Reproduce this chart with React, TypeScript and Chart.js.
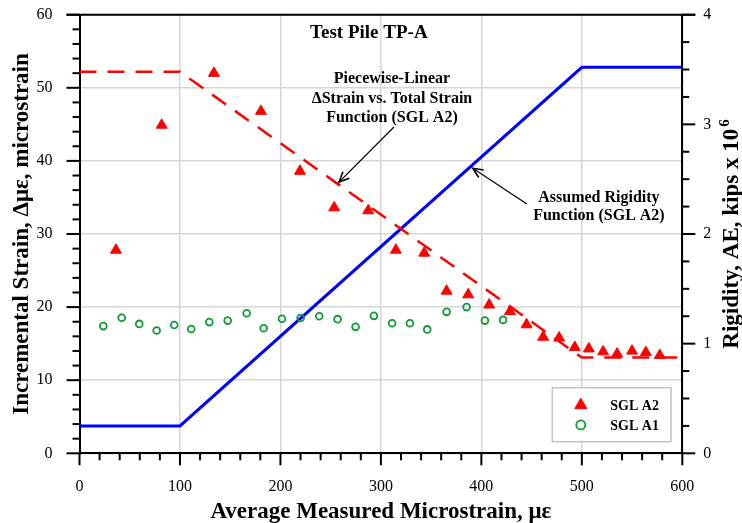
import React, { useEffect, useRef } from "react";
import { Chart, registerables } from "chart.js";

Chart.register(...registerables);

const FONT = '"Liberation Serif", "Times New Roman", serif';

// Axis ranges / tick steps
const xRange = [0, 600];
const xStep = 100;
const xMinorStep = 20;
const leftRange = [0, 60];
const leftStep = 10;
const leftMinorStep = 2;
const rightRange = [0, 4];
const rightStep = 1;
const rightMinorStep = 0.25;

// SGL A2 measured points (triangles)
const a2X = [36.3, 81.8, 133.8, 180.6, 219.4, 253.5, 287.4, 314.9, 343.1, 365.4, 386.9, 407.8, 428.4, 445, 461.5, 477.4, 493, 507, 521.2, 535.1, 550, 563.7, 577.6];
const a2Y = [27.8, 44.9, 52.0, 46.8, 38.6, 33.6, 33.2, 27.8, 27.4, 22.2, 21.7, 20.3, 19.4, 17.6, 15.9, 15.8, 14.5, 14.3, 13.9, 13.6, 14.0, 13.8, 13.4];

// SGL A1 measured points (open circles)
const a1X = [23.7, 42.0, 59.5, 76.8, 94.3, 111.2, 129.2, 147.5, 166.4, 183.3, 201.5, 220.1, 238.6, 256.9, 274.8, 293.0, 311.2, 328.9, 346.1, 365.4, 385.3, 403.5, 421.6];
const a1Y = [17.4, 18.55, 17.7, 16.8, 17.55, 17.0, 17.95, 18.15, 19.15, 17.1, 18.4, 18.5, 18.75, 18.35, 17.3, 18.8, 17.8, 17.8, 16.95, 19.35, 20.0, 18.15, 18.25];

// Piecewise-linear ΔStrain vs total strain function (left axis)
const strainFnX = [0, 100, 500, 600];
const strainFnY = [52.2, 52.2, 13.1, 13.1];

// Assumed rigidity function (right axis, kips x 10^6)
const rigidityX = [0, 100, 500, 600];
const rigidityY = [0.25, 0.25, 3.52, 3.52];

const titleText = "Test Pile TP-A";
const xTitle = "Average Measured Microstrain, \u03bc\u03b5";
const leftTitle = "Incremental Strain, \u0394\u03bc\u03b5, microstrain";
const rightTitle = "Rigidity, AE, kips x 10";
const rightTitleSup = "6";
const note1 = ["Piecewise-Linear", "\u0394Strain vs. Total Strain", "Function (SGL A2)"];
const note2 = ["Assumed Rigidity", "Function (SGL A2)"];
const legendLabels = ["SGL A2", "SGL A1"];

const toPts = (xs: number[], ys: number[]) => xs.map((x, i) => ({ x, y: ys[i] }));

const decor = {
  id: "decor",
  afterDraw(chart: any) {
    const ctx: CanvasRenderingContext2D = chart.ctx;
    const { left, right, top, bottom } = chart.chartArea;
    const xs = chart.scales.x;
    const ys = chart.scales.y;
    const y1 = chart.scales.y1;
    const line = (a: number, b: number, c: number, d: number) => {
      ctx.beginPath();
      ctx.moveTo(a, b);
      ctx.lineTo(c, d);
      ctx.stroke();
    };
    ctx.save();
    ctx.strokeStyle = "#000";
    ctx.lineWidth = 2;
    // top frame
    line(left - 13, top, right + 13, top);
    // x ticks
    for (let v = xRange[0]; v <= xRange[1] + 1e-6; v += xMinorStep) {
      const px = xs.getPixelForValue(v);
      const major = Math.abs(v % xStep) < 1e-6;
      line(px, bottom, px, bottom + (major ? 12 : 7));
    }
    // left ticks
    for (let v = leftRange[0]; v <= leftRange[1] + 1e-6; v += leftMinorStep) {
      const py = ys.getPixelForValue(v);
      const major = Math.abs(v % leftStep) < 1e-6;
      line(left, py, left - (major ? 13 : 7), py);
    }
    // right ticks
    for (let k = 0; k <= (rightRange[1] - rightRange[0]) / rightMinorStep + 1e-6; k++) {
      const v = rightRange[0] + k * rightMinorStep;
      const py = y1.getPixelForValue(v);
      const major = Math.abs(v % rightStep) < 1e-6;
      line(right, py, right + (major ? 13 : 7), py);
    }

    ctx.fillStyle = "#000";
    // x title
    ctx.font = `bold 23px ${FONT}`;
    ctx.textAlign = "center";
    ctx.textBaseline = "alphabetic";
    ctx.fillText(xTitle, (left + right) / 2, 518);
    // left title
    ctx.save();
    ctx.translate(28, (top + bottom) / 2);
    ctx.rotate(-Math.PI / 2);
    ctx.fillText(leftTitle, 0, 0);
    ctx.restore();
    // right title
    ctx.save();
    ctx.translate(738, (top + bottom) / 2);
    ctx.rotate(-Math.PI / 2);
    ctx.font = `bold 23px ${FONT}`;
    const w1 = ctx.measureText(rightTitle).width;
    ctx.font = `bold 15px ${FONT}`;
    const w2 = ctx.measureText(rightTitleSup).width;
    const start = -(w1 + w2 + 2) / 2;
    ctx.textAlign = "left";
    ctx.font = `bold 23px ${FONT}`;
    ctx.fillText(rightTitle, start, 0);
    ctx.font = `bold 15px ${FONT}`;
    ctx.fillText(rightTitleSup, start + w1 + 2, -9);
    ctx.restore();

    // chart title
    ctx.font = `bold 19px ${FONT}`;
    ctx.textAlign = "center";
    ctx.fillText(titleText, xs.getPixelForValue(288), ys.getPixelForValue(56.8));

    // annotation 1
    ctx.font = `bold 16px ${FONT}`;
    const n1x = xs.getPixelForValue(311);
    const n1y = ys.getPixelForValue(50.65);
    note1.forEach((t, i) => ctx.fillText(t, n1x, n1y + i * 19.5));
    // annotation 2
    const n2x = xs.getPixelForValue(517);
    const n2y = ys.getPixelForValue(34.4);
    note2.forEach((t, i) => ctx.fillText(t, n2x, n2y + i * 18.5));

    // arrows
    const arrow = (x0: number, y0: number, x1: number, y1p: number) => {
      ctx.lineWidth = 1.2;
      ctx.strokeStyle = "#000";
      line(x0, y0, x1, y1p);
      const ang = Math.atan2(y1p - y0, x1 - x0);
      const L = 11;
      const spread = 0.42;
      ctx.beginPath();
      ctx.moveTo(x1 - L * Math.cos(ang - spread), y1p - L * Math.sin(ang - spread));
      ctx.lineTo(x1, y1p);
      ctx.lineTo(x1 - L * Math.cos(ang + spread), y1p - L * Math.sin(ang + spread));
      ctx.lineWidth = 1.6;
      ctx.stroke();
    };
    arrow(xs.getPixelForValue(313), ys.getPixelForValue(44.64), xs.getPixelForValue(258.3), ys.getPixelForValue(37.1));
    arrow(xs.getPixelForValue(445.3), ys.getPixelForValue(34.1), xs.getPixelForValue(391.5), ys.getPixelForValue(39.0));

    // legend
    const bw = 118.7;
    const bh = 54;
    const bx = right - 11.3 - bw;
    const by = bottom - 11.6 - bh;
    ctx.fillStyle = "#fff";
    ctx.fillRect(bx, by, bw, bh);
    ctx.strokeStyle = "#c4c4c4";
    ctx.lineWidth = 1.5;
    ctx.strokeRect(bx, by, bw, bh);
    const ds = chart.data.datasets;
    [0, 1].forEach((i) => {
      const d = ds[i];
      const cy = by + 17.5 + i * 19.7;
      const cx = bx + 28.5;
      ctx.save();
      ctx.fillStyle = d.backgroundColor;
      ctx.strokeStyle = d.borderColor;
      ctx.lineWidth = d.borderWidth;
      ctx.beginPath();
      if (d.pointStyle === "triangle") {
        const r = 7;
        ctx.moveTo(cx, cy - r);
        ctx.lineTo(cx + r * Math.sin((2 * Math.PI) / 3), cy - r * Math.cos((2 * Math.PI) / 3));
        ctx.lineTo(cx + r * Math.sin((4 * Math.PI) / 3), cy - r * Math.cos((4 * Math.PI) / 3));
        ctx.closePath();
        ctx.fill();
        ctx.stroke();
      } else {
        ctx.arc(cx, cy, 4.5, 0, Math.PI * 2);
        ctx.stroke();
      }
      ctx.restore();
      ctx.fillStyle = "#000";
      ctx.font = `bold 14px ${FONT}`;
      ctx.textAlign = "left";
      ctx.textBaseline = "middle";
      ctx.fillText(legendLabels[i], bx + 58, cy + 1);
    });
    ctx.restore();
  },
};

export default function App() {
  const ref = useRef<HTMLCanvasElement>(null);
  useEffect(() => {
    if (!ref.current) return;
    const chart = new Chart(ref.current, {
      type: "scatter",
      data: {
        datasets: [
          {
            label: legendLabels[0],
            data: toPts(a2X, a2Y),
            pointStyle: "triangle",
            pointRadius: 6.3,
            backgroundColor: "#ff0000",
            borderColor: "#ff0000",
            borderWidth: 1,
            yAxisID: "y",
          },
          {
            label: legendLabels[1],
            data: toPts(a1X, a1Y),
            pointStyle: "circle",
            pointRadius: 3.4,
            backgroundColor: "rgba(0,0,0,0)",
            borderColor: "#0f9a36",
            borderWidth: 1.8,
            yAxisID: "y",
          },
          {
            label: "Strain function",
            data: toPts(strainFnX, strainFnY),
            showLine: true,
            pointRadius: 0,
            borderColor: "#ff0000",
            backgroundColor: "#ff0000",
            borderWidth: 2.5,
            borderDash: [17, 11],
            yAxisID: "y",
          },
          {
            label: "Rigidity function",
            data: toPts(rigidityX, rigidityY),
            showLine: true,
            pointRadius: 0,
            borderColor: "#0000ff",
            backgroundColor: "#0000ff",
            borderWidth: 3,
            yAxisID: "y1",
          },
        ],
      },
      options: {
        animation: false,
        responsive: false,
        devicePixelRatio: 1,
        layout: { padding: { top: 14.7, left: 0, right: 0, bottom: 0 } },
        plugins: { legend: { display: false }, tooltip: { enabled: false }, title: { display: false } },
        scales: {
          x: {
            type: "linear",
            min: xRange[0],
            max: xRange[1],
            ticks: { stepSize: xStep, color: "#000", font: { family: FONT, size: 16 }, padding: 24 },
            grid: { color: "#d6d6d6", lineWidth: 1.5, drawTicks: false },
            border: { display: true, color: "#000", width: 2 },
            afterFit: (s: any) => {
              s.height = 69.7;
              s.paddingLeft = 0;
              s.paddingRight = 0;
            },
          },
          y: {
            type: "linear",
            position: "left",
            min: leftRange[0],
            max: leftRange[1],
            ticks: { stepSize: leftStep, color: "#000", font: { family: FONT, size: 16 }, padding: 27 },
            grid: { color: "#d6d6d6", lineWidth: 1.5, drawTicks: false },
            border: { display: true, color: "#000", width: 2 },
            afterFit: (s: any) => {
              s.width = 79.5;
              s.paddingTop = 0;
              s.paddingBottom = 0;
            },
          },
          y1: {
            type: "linear",
            position: "right",
            min: rightRange[0],
            max: rightRange[1],
            ticks: { stepSize: rightStep, color: "#000", font: { family: FONT, size: 16 }, padding: 21 },
            grid: { drawOnChartArea: false, drawTicks: false },
            border: { display: true, color: "#000", width: 2 },
            afterFit: (s: any) => {
              s.width = 59.7;
              s.paddingTop = 0;
              s.paddingBottom = 0;
            },
          },
        },
      },
      plugins: [decor],
    } as any);
    return () => chart.destroy();
  }, []);
  return (
    <div style={{ position: "fixed", left: 0, top: 0, width: 742, height: 523, background: "#fff" }}>
      <canvas ref={ref} width={742} height={523} />
    </div>
  );
}
